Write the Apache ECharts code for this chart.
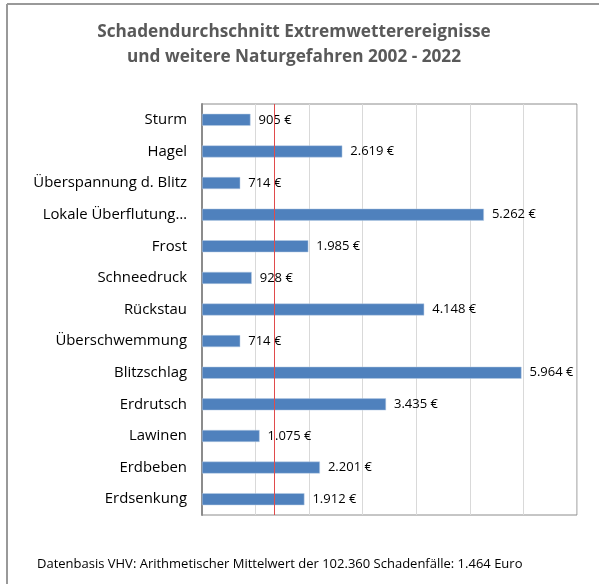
<!DOCTYPE html>
<html><head><meta charset="utf-8">
<script src="https://cdn.jsdelivr.net/npm/echarts@6/dist/echarts.min.js"></script>
<style>html,body{margin:0;padding:0;background:#fff}#c{width:599px;height:584px}</style>
</head><body><div id="c"></div>
<script>
const categories = ["Sturm","Hagel","Überspannung d. Blitz","Lokale Überflutung…","Frost","Schneedruck","Rückstau","Überschwemmung","Blitzschlag","Erdrutsch","Lawinen","Erdbeben","Erdsenkung"];
const values = [905,2619,714,5262,1985,928,4148,714,5964,3435,1075,2201,1912];
const meanLineValue = 1350;
const titleText = "Schadendurchschnitt Extremwetterereignisse\nund weitere Naturgefahren 2002 - 2022";
const footerText = "Datenbasis VHV: Arithmetischer Mittelwert der 102.360 Schadenfälle: 1.464 Euro";
const FONT = "'Open Sans', Lato, sans-serif";
function fmt(v){return String(v).replace(/\B(?=(\d{3})+(?!\d))/g,'.')+' €';}
const chart = echarts.init(document.getElementById('c'), null, {renderer:'canvas'});
chart.setOption({
  animation:false,
  graphic:[
    {type:'line',shape:{x1:7,y1:4,x2:599,y2:4},style:{stroke:'#999',lineWidth:2}},
    {type:'line',shape:{x1:7,y1:4,x2:7,y2:584},style:{stroke:'#999',lineWidth:2}}
  ],
  title:[{
    text:titleText,left:289,top:15,textAlign:'center',
    textStyle:{fontFamily:FONT,fontSize:17.2,fontWeight:'bold',color:'#595959',lineHeight:25}
  },{
    text:footerText,left:32,top:553,
    textStyle:{fontFamily:FONT,fontSize:13,fontWeight:'normal',color:'#000'}
  }],
  grid:{left:202,right:22,top:104,bottom:69,show:true,borderColor:'#8c8c8c',borderWidth:1,containLabel:false},
  xAxis:{type:'value',min:0,max:7000,interval:1000,
    axisLabel:{show:false},axisTick:{show:false},axisLine:{show:false},
    splitLine:{show:true,lineStyle:{color:'#d9d9d9',width:1}}},
  yAxis:{type:'category',data:categories,inverse:true,
    axisLine:{show:true,lineStyle:{color:'#8c8c8c',width:2}},axisTick:{show:false},
    axisLabel:{fontFamily:FONT,fontSize:14.9,color:'#000',margin:15}},
  series:[{
    type:'bar',data:values,barWidth:12,
    itemStyle:{color:'#4F81BD',borderColor:'#b8cce4',borderWidth:0.5},
    label:{show:true,position:'right',distance:8,formatter:p=>fmt(p.value),fontFamily:FONT,fontSize:13,color:'#000'},
    markLine:{symbol:'none',silent:true,label:{show:false},
      lineStyle:{color:'#E04B4B',width:1,type:'solid'},
      data:[{xAxis:meanLineValue}]}
  }]
});
</script></body></html>
